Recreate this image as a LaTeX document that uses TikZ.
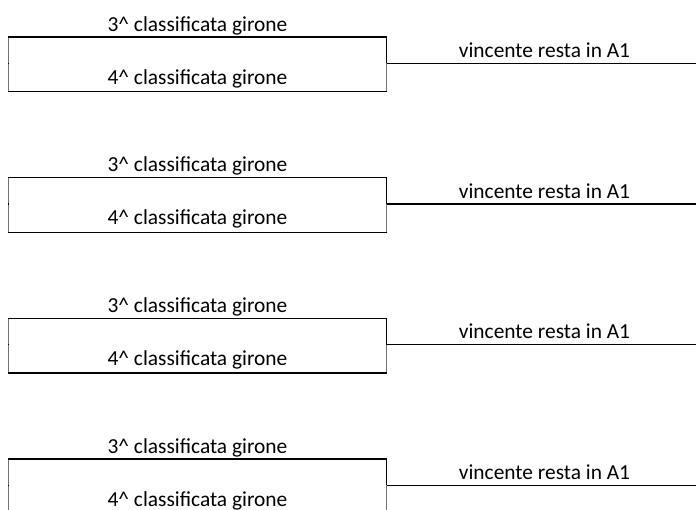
\documentclass[tikz,border=0pt]{standalone}
\usepackage{fontspec}
\setmainfont{Carlito}
\tikzset{
  cellline/.style={line width=1.4pt,black},
  grayline/.style={line width=1pt,black!55},
  celltext/.style={anchor=base,inner sep=0pt}
}
\begin{document}
\begin{tikzpicture}[x=1pt,y=-1pt,font=\fontsize{21.4}{25}\selectfont]
\useasboundingbox (0,0) rectangle (696,509);
\clip (0,0) rectangle (696,509);
\foreach \i in {0,1,2,3}{
  \begin{scope}[yshift=-\i*140.7pt]
  % testi delle celle
  \node[celltext] (terza\i) at (197.5,31) {3\textasciicircum{} classificata girone};
  \node[celltext] (quarta\i) at (197.5,84) {4\textasciicircum{} classificata girone};
  \node[celltext] (vinc\i) at (544.5,57.5) {vincente resta in A1};
  % bordi
  \draw [grayline] (8.5,37) to (8.5,91.7);
  \draw [cellline] (7.6,63.3) to (9.4,63.3);
  \draw [cellline] (7.8,37) to (386.7,37) to (386.7,63.3);
  \draw [grayline] (386.7,63.3) to (386.7,91.7);
  \draw [cellline] (7.8,91.7) to (387.4,91.7);
  \draw [cellline] (386.7,63.3) to (696,63.3);
  \end{scope}
}
\end{tikzpicture}
\end{document}
